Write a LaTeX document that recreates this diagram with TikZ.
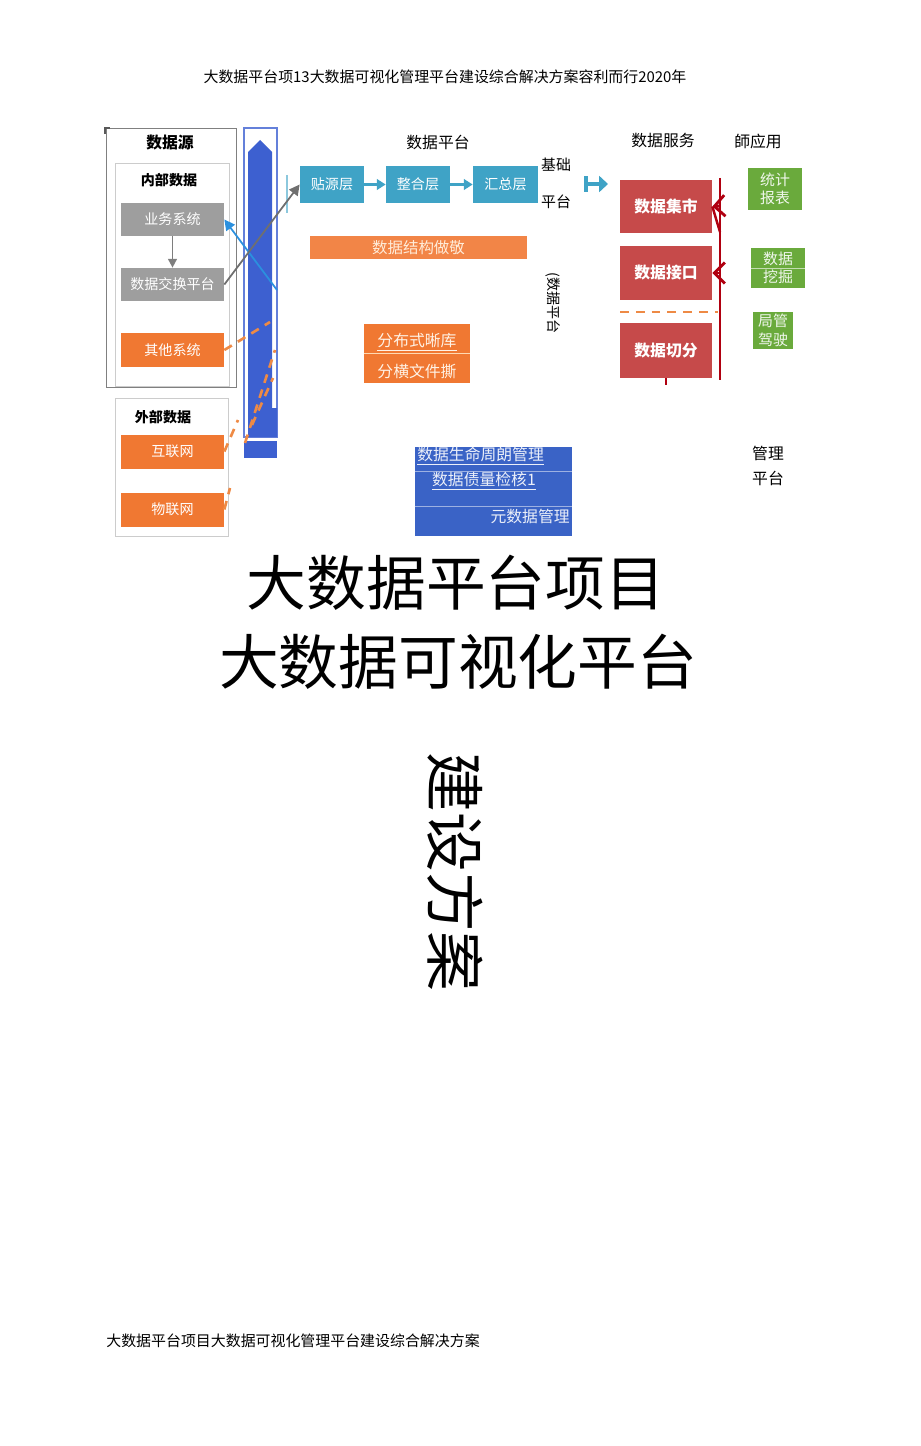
\documentclass[tikz,border=0pt]{standalone}
\usepackage{fontspec}
\setmainfont{Noto Sans CJK SC}
\usetikzlibrary{arrows.meta}
\definecolor{srcgray}{HTML}{9E9E9E}
\definecolor{srcorange}{HTML}{F07832}
\definecolor{dashorange}{HTML}{EE8A45}
\definecolor{colblue}{HTML}{3D60D0}
\definecolor{layerteal}{HTML}{3FA3C6}
\definecolor{servred}{HTML}{C64A4A}
\definecolor{linered}{HTML}{B00010}
\definecolor{appgreen}{HTML}{6AAA3C}
\definecolor{mgmtblue}{HTML}{3A63C6}

\begin{document}
\begin{tikzpicture}[x=0.02cm, y=-0.02cm,
    box/.style={inner sep=0pt, text=white, font=\fontsize{8}{9}\selectfont},
    graybox/.style={box, fill=srcgray, minimum width=2.06cm, minimum height=0.66cm},
    orangebox/.style={box, fill=srcorange, minimum width=2.06cm, minimum height=0.68cm},
    layerbox/.style={box, fill=layerteal, minimum width=1.28cm, minimum height=0.74cm},
    servbox/.style={box, fill=servred, minimum width=1.84cm, minimum height=1.08cm, font=\fontsize{9}{10}\selectfont\bfseries},
    appbox/.style={box, fill=appgreen, align=center, text=white!90!appgreen, font=\fontsize{8.5}{10.5}\selectfont},
    plaintxt/.style={inner sep=0pt, font=\fontsize{9}{10}\selectfont},
    headtxt/.style={inner sep=0pt, font=\fontsize{8.5}{10}\selectfont},
    bigtxt/.style={inner sep=0pt, font=\fontsize{34}{36}\selectfont},
    dashline/.style={draw=dashorange, line width=1.5pt, dash pattern=on 5pt off 4pt}]
    \useasboundingbox (0,0) rectangle (920,1446);
    \node[headtxt] (head) at (445,77) {大数据平台项13大数据可视化管理平台建设综合解决方案容利而行2020年};
    \draw[gray] (106,128) rectangle (236,387);
    \draw[line width=1.5pt, gray!70!black] (105,134) -- (105,128) -- (110,128);
    \node[plaintxt, font=\fontsize{9}{10}\selectfont\bfseries] (srctitle) at (170,143) {数据源};
    \draw[gray!40] (115,163) rectangle (229,386);
    \node[plaintxt, font=\fontsize{8}{9}\selectfont\bfseries] (inner) at (169,180) {内部数据};
    \node[graybox] (ywxt) at (172.5,219.5) {业务系统};
    \node[graybox] (jhpt) at (172.5,284.5) {数据交换平台};
    \node[orangebox] (qtxt) at (172.5,350) {其他系统};
    \draw[gray!40] (115,398) rectangle (228,536);
    \node[plaintxt, font=\fontsize{8}{9}\selectfont\bfseries] (outer) at (163,417) {外部数据};
    \node[orangebox] (hlw) at (172.5,451.5) {互联网};
    \node[orangebox] (wlw) at (172.5,509.5) {物联网};
    \draw[srcgray!80!black, line width=1pt, -{Triangle[length=5pt,width=5pt]}] (ywxt) -- (jhpt);
    \draw[colblue!80!white, line width=1pt] (244,128) rectangle (277,437);
    \fill[colblue] (248,437) -- (248,152) -- (260,140) -- (272,152) -- (272,408) -- (277,408) -- (277,437) -- cycle;
    \fill[colblue] (244,441) rectangle (277,458);
    \coordinate (colhit) at (277,290);
    \draw[colblue!70!cyan, line width=1pt, -{Triangle[length=6pt,width=6pt]}] (colhit) -- (ywxt.east);
    \draw[dashline] (qtxt.east) -- (270,322);
    \draw[dashline] (245,443) -- (275,350);
    \draw[dashline] (252,425) -- (273,378);
    \draw[dashline] (hlw.east) -- (238,420);
    \draw[dashline] (wlw.east) -- (230,488);
    \node[plaintxt] (ptitle) at (438,142) {数据平台};
    \node[layerbox] (tyc) at (332,184.5) {贴源层};
    \node[layerbox] (zhc) at (418,184.5) {整合层};
    \node[layerbox, minimum width=1.3cm] (hzc) at (505.5,184.5) {汇总层};
    \draw[layerteal!60, line width=1.2pt] (287,175) -- (287,213);
    \draw[srcgray!70!black, line width=1pt, -{Triangle[length=6pt,width=6pt]}] (jhpt.east) -- (tyc.west);
    \draw[layerteal, line width=1.2pt, -{Triangle[length=5pt,width=6pt]}] (tyc) -- (zhc);
    \draw[layerteal, line width=1.2pt, -{Triangle[length=5pt,width=6pt]}] (zhc) -- (hzc);
    \node[headtxt] (jc) at (556,165) {基础};
    \node[headtxt] (pt) at (556,202) {平台};
    \coordinate (barL) at (584,184);
    \coordinate (barR) at (608,184);
    \draw[layerteal, line width=2pt, {Bar[width=9pt]}-{Triangle[length=5pt,width=9pt]}] (barL) -- (barR);
    \node[box, fill=srcorange!90!white, minimum width=4.34cm, minimum height=0.46cm, text=white!85!orange, font=\fontsize{8.8}{10}\selectfont] (sjjg) at (418.5,247.5) {数据结构做敬};
    \node[headtxt, rotate=-90, font=\fontsize{8}{9}\selectfont] (vplat) at (553,303) {(数据平台};
    \node[box, fill=srcorange, minimum width=2.12cm, minimum height=1.18cm] (fbs) at (417,353.5) {};
    \draw[white!70!orange] (fbs.west |- 0,353) -- (fbs.east |- 0,353);
    \node[plaintxt, text=white!90!orange] (fbs1) at (417,342) {\underline{分布式晰库}};
    \node[plaintxt, text=white!90!orange] (fbs2) at (417,371) {分横文件撕};
    \node[box, fill=mgmtblue, minimum width=3.14cm, minimum height=1.78cm] (mgmt) at (493.5,491.5) {};
    \draw[white!50!mgmtblue] (mgmt.west |- 0,471) -- (mgmt.east |- 0,471);
    \draw[white!50!mgmtblue] (mgmt.west |- 0,506) -- (mgmt.east |- 0,506);
    \node[plaintxt, text=white!90!mgmtblue, anchor=west] (mg1) at (417,456) {\underline{数据生命周朗管理}};
    \node[plaintxt, text=white!90!mgmtblue] (mg2) at (484,481) {\underline{数据债量检核1}};
    \node[plaintxt, text=white!90!mgmtblue, anchor=east] (mg3) at (570,516) {元数据管理};
    \node[plaintxt] (stitle) at (663,141) {数据服务};
    \node[plaintxt] (atitle) at (758,141) {師应用};
    \node[servbox] (jishi) at (666,206.5) {数据集市};
    \node[servbox] (jiekou) at (666,273) {数据接口};
    \node[servbox, minimum height=1.1cm] (qiefen) at (666,350.5) {数据切分};
    \draw[dashline, line width=1.2pt] (620,312) -- (718,312);
    \coordinate (rtop) at (720,178);
    \coordinate (rbot) at (720,380);
    \draw[linered, line width=1.2pt] (rtop) -- (rbot);
    \draw[linered, line width=1.6pt, -{Straight Barb[length=6pt,width=12pt]}] (720,206) -- (jishi.east);
    \draw[linered, line width=1.4pt] (jishi.east) -- (720,232);
    \draw[linered, line width=1.6pt, -{Straight Barb[length=6pt,width=12pt]}] (720,273) -- (jiekou.east);
    \draw[linered, line width=1.2pt] (qiefen.south) -- ++(0,7);
    \node[appbox, minimum width=1.08cm, minimum height=0.84cm] (tjbb) at (775,189) {统计\\报表};
    \node[appbox, minimum width=1.08cm, minimum height=0.8cm] (sjwj) at (778,268) {数据\\挖掘};
    \draw[white!60!appgreen] (sjwj.west) -- (sjwj.east);
    \node[appbox, minimum width=0.8cm, minimum height=0.74cm] (jgjs) at (773,330.5) {局管\\驾驶};
    \node[plaintxt] (gl1) at (768,453) {管理};
    \node[plaintxt] (gl2) at (768,478) {平台};
    \node[bigtxt] (big1) at (456,583) {大数据平台项目};
    \node[bigtxt] (big2) at (458,662) {大数据可视化平台};
    \node[bigtxt, rotate=-90] (big3) at (455,872) {建设方案};
    \node[headtxt, anchor=west] (foot) at (106,1341) {大数据平台项目大数据可视化管理平台建设综合解决方案};
\end{tikzpicture}
\end{document}
